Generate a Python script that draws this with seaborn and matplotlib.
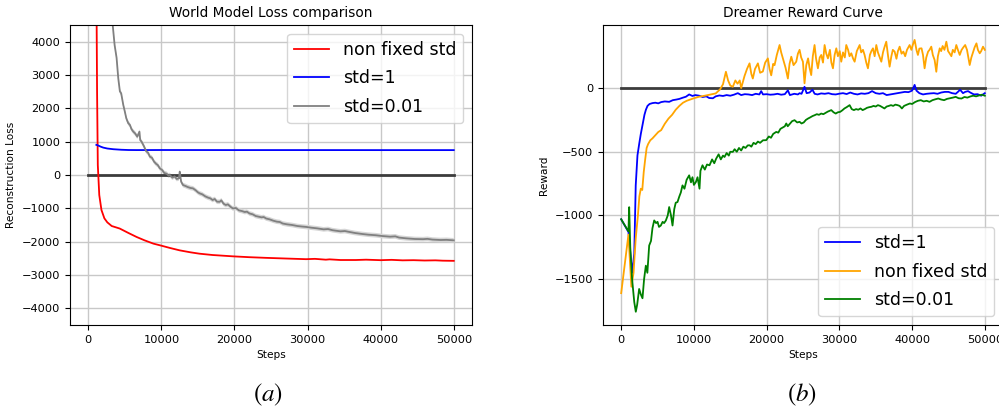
import numpy as np
import pandas as pd
import matplotlib
matplotlib.use("Agg")
import matplotlib.pyplot as plt
import seaborn as sns

# ---------------- data: (a) World Model Loss comparison ----------------
loss_red_steps = [1000, 1100, 1200, 1300, 1500, 1800, 2200, 2600, 3200, 4300, 5500, 6600, 7700,
                  8900, 10000, 11200, 12500, 14000, 15200, 17000, 19800, 22000, 24300, 27000,
                  29800, 31000, 32500, 33000, 34500, 36600, 38000, 40000, 41500, 43000, 44500,
                  46000, 47500, 48500, 50000]
loss_red_vals = [15000, 6000, 2500, 300, -600, -1050, -1300, -1420, -1530, -1606, -1740, -1858, -1960,
                 -2058, -2120, -2190, -2260, -2320, -2360, -2400, -2440, -2465, -2485, -2505,
                 -2525, -2515, -2540, -2530, -2550, -2550, -2540, -2555, -2545, -2560, -2555,
                 -2565, -2560, -2570, -2575]

loss_blue_steps = [1100, 1300, 1700, 2050, 2600, 3410, 4500, 5500, 6600, 10000, 20000, 30000, 40000, 50000]
loss_blue_vals = [905, 890, 850, 822, 795, 774, 758, 750, 748, 750, 748, 748, 747, 747]

loss_gray_steps = [1000, 1500, 2000, 2500, 3000, 3330, 3600, 3870, 4100, 4320, 4500, 4780, 5000, 5200,
                   5460, 5700, 5900, 6140, 6400, 6700, 7000, 7100, 7280, 7600, 7900, 8200, 8420,
                   8700, 9000, 9300, 9500, 9780, 10100, 10400, 10700, 11000, 11150, 11500, 11800,
                   12100, 12400, 12510, 12700, 12960, 13300, 13600, 14000, 14320, 14700, 15000,
                   15240, 15600, 16000, 16400, 16700, 17000, 17300, 17600, 17970, 18200, 18500,
                   18800, 19100, 19500, 19780, 20200, 20600, 21000, 21400, 21700, 22060, 22500,
                   22900, 23300, 23700, 24000, 24330, 24800, 25300, 25800, 26200, 26600, 27200,
                   27900, 28600, 29200, 29790, 30500, 31300, 32200, 32800, 33430, 34500, 35100,
                   35700, 36500, 37500, 38300, 39340, 40200, 41300, 42000, 42520, 43500, 44700,
                   45800, 46400, 47070, 48200, 49000, 50000]
loss_gray_vals = [20000, 14000, 10000, 7600, 5600, 4520, 3900, 3515, 2900, 2510, 2450, 2108, 1900, 1700,
                  1557, 1500, 1380, 1305, 1250, 1150, 1300, 1050, 1003, 870, 720, 660, 551,
                  520, 400, 330, 300, 202, 150, 60, 40, -20, 0, -80, -40,
                  -120, -100, 100, -200, -301, -330, -360, -390, -400, -460, -520,
                  -551, -580, -640, -680, -700, -750, -720, -800, -804, -760, -860,
                  -900, -880, -960, -1003, -990, -1060, -1080, -1110, -1100, -1154, -1180,
                  -1230, -1250, -1270, -1260, -1304, -1330, -1370, -1400, -1410, -1455, -1480,
                  -1500, -1530, -1545, -1557, -1580, -1600, -1630, -1620, -1657, -1690, -1680,
                  -1707, -1740, -1770, -1790, -1807, -1830, -1850, -1840, -1877, -1900, -1920,
                  -1925, -1915, -1937, -1950, -1945, -1960]
loss_gray_spread = 70

# ---------------- data: (b) Dreamer Reward Curve ----------------
rew_blue_steps = [0, 1000, 1500, 1800, 2000, 2240, 2500, 2700, 2930, 3200, 3400, 3620, 3900, 4300, 4700,
                  5100, 5500, 6000, 6600, 7100, 7600, 8000, 8500, 8900, 9350, 9800, 10200, 10730,
                  11200, 11700, 12100, 12610, 13000, 13500, 14000, 14500, 15000, 15500, 16040,
                  16500, 17000, 17500, 18000, 18500, 19000, 19250, 19500, 20000, 20500, 21000,
                  21500, 22000, 22500, 22920, 23200, 23800, 24300, 24530, 24800, 25210, 25500,
                  25900, 26300, 26600, 27000, 27500, 28000, 28500, 29000, 29500, 30000, 30500,
                  31000, 31500, 32000, 32500, 33000, 33500, 34000, 34500, 35000, 35500, 36000,
                  36500, 37000, 37500, 38000, 38500, 39000, 39500, 40000, 40350, 40600, 41000,
                  41500, 42000, 42500, 43000, 43500, 44000, 44500, 45000, 45500, 46000, 46300,
                  46600, 47000, 47300, 47700, 48000, 48500, 49000, 49500, 50000]
rew_blue_vals = [-1030, -1130, -1450, -1300, -764, -528, -430, -360, -291, -210, -170, -140, -125, -118, -115,
                 -120, -110, -105, -108, -95, -90, -85, -75, -68, -50, -62, -55, -60,
                 -70, -65, -78, -80, -65, -58, -62, -55, -60, -52, -40,
                 -55, -48, -50, -55, -45, -50, -24, -50, -48, -52, -50,
                 -45, -52, -48, -18, -55, -45, -50, -40, -45, 10, -40,
                 -35, -13, -45, -50, -42, -45, -40, -48, -50, -44, -40,
                 -47, -35, -45, -50, -42, -45, -40, -24, -40, -45, -40,
                 -55, -50, -45, -40, -35, -30, -32, -20, 25, -20, -40,
                 -50, -45, -42, -40, -45, -35, -30, -30, -40, -45, -30,
                 -13, -40, -30, -24, -35, -50, -48, -60, -40]

rew_orange_steps = [0, 1000, 1400, 1700, 2000, 2300, 2500, 2700, 2900, 3100, 3300, 3500, 3700, 4000,
                    4300, 4700, 5100, 5500, 6000, 6500, 7000, 7500, 8000, 8500, 9000, 9500, 10000,
                    10700, 11500, 12300, 13000, 13600, 14000, 14400, 14700, 15000, 15350, 15700,
                    16000, 16300, 16500, 16800, 16960, 17300, 17650, 17900, 18100, 18400, 18800,
                    19100, 19480, 19800, 20170, 20400, 20630, 20900, 21090, 21400, 21780, 22000,
                    22240, 22600, 22920, 23150, 23390, 23700, 24070, 24300, 24530, 24750, 24990,
                    25210, 25450, 25700, 25900, 26130, 26350, 26590, 26800, 27050, 27300, 27510,
                    27750, 27970, 28200, 28430, 28700, 28900, 29120, 29350, 29580, 29800, 30050,
                    30260, 30500, 30750, 30950, 31200, 31400, 31640, 31900, 32100, 32400, 32790,
                    33000, 33250, 33470, 33700, 33930, 34200, 34400, 34620, 34850, 35080, 35300,
                    35550, 35770, 36000, 36200, 36450, 36700, 36910, 37150, 37350, 37600, 37850,
                    38050, 38290, 38550, 38800, 39050, 39300, 39660, 39900, 40100, 40350, 40600,
                    40800, 41000, 41300, 41500, 41720, 41950, 42200, 42400, 42640, 42850, 43100,
                    43330, 43550, 43800, 44000, 44200, 44450, 44710, 44950, 45150, 45400, 45600,
                    45850, 46080, 46300, 46550, 46800, 47050, 47300, 47550, 47700, 47920, 48150,
                    48400, 48600, 48850, 49050, 49300, 49500, 49750, 50000]
rew_orange_vals = [-1610, -1150, -1560, -1450, -1180, -1000, -850, -790, -800, -660, -560, -470, -440, -410,
                   -395, -370, -345, -330, -280, -240, -210, -170, -140, -115, -100, -90, -80,
                   -68, -60, -50, -42, -10, 30, 128, 60, 20, 10, 60,
                   34, 60, 0, 60, 95, 150, 194, 110, 75, 150, 194,
                   120, 130, 200, 233, 150, 100, 190, 180, 260, 338, 280,
                   233, 160, 75, 190, 246, 180, 207, 270, 300, 240, 207,
                   37, 180, 233, 160, 102, 250, 338, 230, 155, 240, 260,
                   200, 338, 270, 233, 300, 200, 155, 260, 312, 250, 290,
                   207, 280, 240, 338, 300, 250, 273, 230, 207, 290, 338,
                   280, 300, 260, 200, 155, 260, 290, 312, 250, 338, 280,
                   240, 207, 280, 320, 364, 250, 168, 250, 300, 286, 230,
                   290, 325, 270, 286, 250, 300, 338, 300, 340, 378, 300,
                   260, 310, 312, 260, 155, 240, 286, 300, 325, 260, 220,
                   128, 250, 312, 290, 330, 300, 364, 290, 273, 250, 300,
                   280, 338, 300, 260, 299, 320, 338, 300, 250, 181, 240,
                   286, 320, 351, 300, 273, 290, 325, 300]

rew_green_steps = [0, 1000, 1100, 1250, 1500, 1800, 2010, 2200, 2470, 2700, 2930, 3150, 3390, 3600, 3850,
                   4100, 4300, 4540, 4800, 5000, 5200, 5450, 5700, 5900, 6140, 6400, 6600, 6850, 7060,
                   7300, 7500, 7740, 8000, 8200, 8430, 8700, 9000, 9350, 9600, 9800, 10000, 10270,
                   10500, 10770, 10900, 11180, 11500, 11800, 12150, 12500, 12800, 13060, 13400, 13700,
                   14000, 14210, 14500, 14800, 15000, 15350, 15600, 15900, 16200, 16500, 16800, 17100,
                   17400, 17650, 17900, 18200, 18500, 18800, 19100, 19500, 19940, 20300, 20600, 20900,
                   21320, 21600, 21900, 22200, 22500, 22700, 22900, 23200, 23500, 23840, 24200, 24530,
                   24800, 25100, 25400, 25700, 26000, 26300, 26600, 26900, 27200, 27500, 27800, 28100,
                   28400, 28890, 29200, 29500, 29800, 30100, 30400, 30700, 31000, 31410, 31700, 32000,
                   32300, 32600, 32900, 33200, 33500, 33800, 34100, 34400, 34700, 35000, 35300, 35600,
                   35900, 36200, 36500, 36800, 37100, 37400, 37700, 38000, 38290, 38600, 38900, 39300,
                   39700, 40000, 40400, 40800, 41200, 41600, 42000, 42400, 42800, 43200, 43600, 44000,
                   44400, 44800, 45200, 45600, 46000, 46400, 46800, 47200, 47600, 48000, 48400, 48800,
                   49200, 49600, 50000]
rew_green_vals = [-1030, -1125, -935, -1250, -1500, -1680, -1756, -1700, -1577, -1620, -1650, -1500, -1394, -1450, -1236,
                  -1200, -1100, -1039, -1060, -1050, -1090, -1079, -1050, -1060, -1040, -1000, -934, -1000, -1079,
                  -950, -900, -895, -850, -820, -764, -790, -720, -685, -740, -700, -760, -738,
                  -700, -790, -650, -606, -640, -600, -606, -560, -590, -554, -520, -560,
                  -530, -541, -510, -530, -500, -501, -480, -500, -470, -490, -460, -470,
                  -450, -449, -460, -430, -440, -420, -430, -410, -409, -380, -390, -360,
                  -344, -350, -320, -310, -300, -278, -300, -280, -260, -252, -270, -265,
                  -278, -270, -250, -239, -230, -220, -213, -205, -210, -200, -205, -195,
                  -185, -173, -190, -200, -190, -187, -175, -160, -150, -134, -165, -173,
                  -165, -170, -160, -173, -165, -155, -150, -147, -140, -145, -134, -140,
                  -150, -160, -145, -140, -134, -140, -130, -134, -140, -160, -140, -130,
                  -121, -125, -110, -100, -95, -105, -100, -108, -95, -88, -82, -90,
                  -95, -85, -80, -75, -69, -80, -82, -70, -75, -66, -60, -65,
                  -58, -52, -60]

zero_steps = [0, 50000]
zero_vals = [0, 0]

# ---------------- figure ----------------
plt.rcParams["mathtext.fontset"] = "stix"
plt.rcParams["font.family"] = ["DejaVu Sans"]

fig = plt.figure(figsize=(9.99, 4.08), dpi=100)
axL = fig.add_axes([0.0701, 0.2034, 0.4024, 0.7353])
axR = fig.add_axes([0.6036, 0.2034, 0.4004, 0.7353])

LW = 1.3
ZERO_COLOR = "#3c3c3c"

# (a)
sns.lineplot(x=zero_steps, y=zero_vals, ax=axL, color=ZERO_COLOR, lw=2.0, legend=False)
sns.lineplot(x=loss_red_steps, y=loss_red_vals, ax=axL, color="red", lw=LW, label="non fixed std")
sns.lineplot(x=loss_blue_steps, y=loss_blue_vals, ax=axL, color="blue", lw=LW, label="std=1")
g = np.array(loss_gray_vals, dtype=float)
axL.fill_between(loss_gray_steps, g - loss_gray_spread, g + loss_gray_spread, color="#d6d6d6", lw=0, zorder=1.8)
sns.lineplot(x=loss_gray_steps, y=loss_gray_vals, ax=axL, color="gray", lw=LW, label="std=0.01")

axL.set_xlim(-2500, 52500)
axL.set_ylim(-4500, 4500)
axL.set_yticks(range(-4000, 4001, 1000))
axL.set_xticks(range(0, 50001, 10000))
axL.set_title("World Model Loss comparison", fontsize=9.8)
axL.set_xlabel("Steps", fontsize=7.6)
axL.set_ylabel("Reconstruction Loss", fontsize=7.6)
axL.legend(loc="upper right", fontsize=12.5, labelspacing=0.62, handlelength=2.0)

# (b)
sns.lineplot(x=zero_steps, y=zero_vals, ax=axR, color=ZERO_COLOR, lw=2.0, legend=False)
sns.lineplot(x=rew_blue_steps, y=rew_blue_vals, ax=axR, color="blue", lw=LW, label="std=1")
sns.lineplot(x=rew_orange_steps, y=rew_orange_vals, ax=axR, color="orange", lw=LW, label="non fixed std")
sns.lineplot(x=rew_green_steps, y=rew_green_vals, ax=axR, color="green", lw=LW, label="std=0.01")

axR.set_xlim(-2500, 52500)
axR.set_ylim(-1860, 495)
axR.set_yticks([-1500, -1000, -500, 0])
axR.set_xticks(range(0, 50001, 10000))
axR.set_title("Dreamer Reward Curve", fontsize=9.8)
axR.set_xlabel("Steps", fontsize=7.6)
axR.set_ylabel("Reward", fontsize=7.6)
axR.legend(loc="lower right", fontsize=12.5, labelspacing=0.62, handlelength=2.0)

for ax in (axL, axR):
    ax.grid(True, color="#c8c8c8", lw=1.0)
    ax.tick_params(labelsize=8.2)

fig.text(0.268, 0.032, r"$(a)$", fontsize=18, ha="center", va="center")
fig.text(0.803, 0.032, r"$(b)$", fontsize=18, ha="center", va="center")

fig.savefig("out.png", dpi=100)
